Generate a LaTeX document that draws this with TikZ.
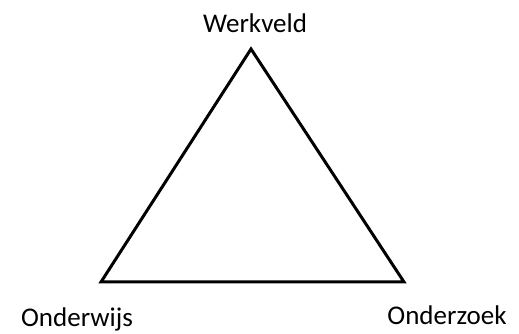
\documentclass[tikz,border=0pt]{standalone}
\usepackage{fontspec}
\setmainfont{Carlito}
\begin{document}
\begin{tikzpicture}[x=1pt,y=1pt,
  lbl/.style={font=\fontsize{27}{30}\selectfont, anchor=base, inner sep=0pt},
  edge/.style={line width=3pt, line join=miter}]
\useasboundingbox (0,0) rectangle (519,334);
\coordinate (top) at (251,285);
\coordinate (bl) at (101,52);
\coordinate (br) at (404,52);
\draw[edge] (top) -- (br) -- (bl) -- cycle;
\node[lbl] (werk) at (255,301) {Werkveld};
\node[lbl] (onderwijs) at (77,7) {Onderwijs};
\node[lbl] (onderzoek) at (447,9) {Onderzoek};
\end{tikzpicture}
\end{document}
